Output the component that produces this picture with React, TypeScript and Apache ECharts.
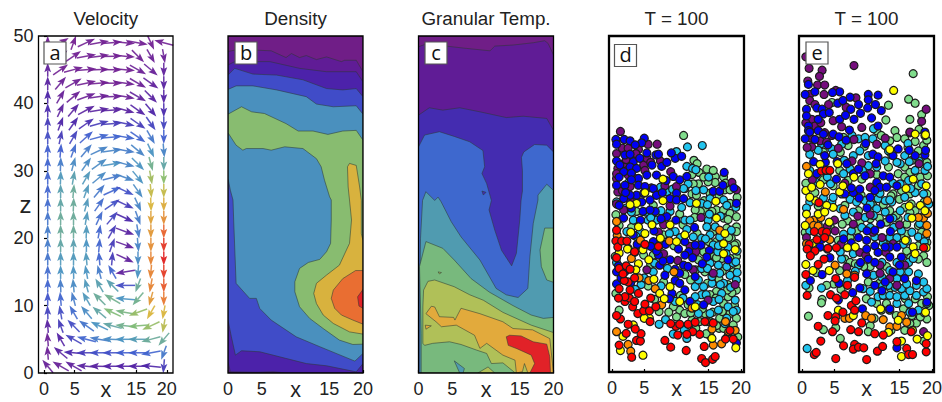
import React, { useEffect, useRef } from "react";
import * as echarts from "echarts";

const FONT = '"Liberation Sans", Arial, sans-serif';
const titles = ["Velocity", "Density", "Granular Temp.", "T = 100", "T = 100"];
const panelLetters = ["a", "b", "c", "d", "e"];
const xTicks = [0, 5, 15, 20];
const zTicks = [0, 10, 20, 30, 40, 50];

// ---------- quiver ----------
const quiverX = [0.6, 2.7, 4.8, 6.9, 9, 11.1, 13.2, 15.3, 17.4, 19.5];
const quiverZ = [49, 47, 45, 43, 41, 39, 37, 35, 33, 31, 29, 27, 25, 23, 21, 19, 17, 15, 13, 11, 9, 7, 5, 3, 1];
const quiverAngles = [
  [90, 30, 70, 25, 10, 5, -5, -10, -65, 165],
  [90, 40, 35, 10, 8, 2, -5, -45, -60, -80],
  [90, 35, 15, 5, 2, 0, -5, -30, -40, -90],
  [90, 50, 30, 12, 5, 0, -8, -30, -35, -90],
  [90, 60, 40, 20, 8, 2, -10, -30, -45, -90],
  [90, 65, 50, 28, 10, 3, -15, -35, -50, -90],
  [90, 70, 55, 35, 15, 5, -12, -35, -55, -90],
  [90, 78, 60, 42, 15, 5, -10, -35, -60, -90],
  [90, 85, 70, 50, 25, 8, -10, -40, -65, -85],
  [90, 88, 75, 55, 35, 10, -15, -45, -75, -90],
  [90, 88, 80, 60, 40, 15, -20, -50, -80, -90],
  [90, 90, 85, 70, 50, 25, -25, -55, -85, -90],
  [90, 90, 88, 75, 55, 35, -25, -65, -88, -90],
  [90, 90, 90, 80, 65, 50, -25, -70, -90, -90],
  [90, 90, 90, 88, 80, 60, -20, -80, -90, -90],
  [90, 90, 90, 90, 85, 70, -20, -85, -90, -90],
  [90, 90, 90, 95, 95, 85, -25, -90, -90, -90],
  [90, 90, 92, 100, 105, 120, 190, -95, -95, -90],
  [90, 92, 95, 105, 120, 135, 180, -110, -100, -90],
  [90, 95, 105, 120, 135, 150, 175, -130, -105, -90],
  [92, 100, 120, 130, 140, 155, 170, -160, -120, -100],
  [95, 110, 135, 145, 155, 165, 175, -175, -155, -100],
  [95, 120, 150, 165, 170, 178, 180, 180, -165, -130],
  [95, 140, 175, 180, 180, 180, 180, 180, -170, -110],
  [130, 150, 150, 175, 178, 180, 180, 180, 175, -95],
];
const quiverSpeeds = [
  [.03, .02, .02, .03, .03, .03, .03, .03, .03, .03],
  [.05, .03, .03, .03, .03, .03, .03, .04, .05, .05],
  [.08, .03, .03, .03, .03, .03, .03, .05, .06, .08],
  [.1, .05, .04, .03, .03, .03, .04, .05, .08, .1],
  [.14, .06, .05, .05, .05, .05, .05, .08, .1, .12],
  [.16, .09, .1, .1, .1, .1, .1, .12, .14, .16],
  [.2, .14, .15, .17, .2, .2, .2, .2, .22, .22],
  [.24, .2, .22, .28, .3, .3, .3, .3, .35, .28],
  [.28, .28, .32, .36, .38, .38, .36, .38, .42, .38],
  [.3, .36, .4, .4, .4, .42, .38, .42, .52, .48],
  [.3, .44, .46, .44, .4, .35, .38, .42, .62, .58],
  [.3, .46, .5, .44, .35, .3, .25, .4, .68, .68],
  [.32, .48, .5, .44, .32, .25, .2, .38, .72, .74],
  [.34, .5, .5, .44, .32, .22, .15, .36, .76, .8],
  [.36, .5, .5, .44, .3, .2, .1, .36, .78, .88],
  [.36, .48, .46, .42, .3, .2, .08, .38, .8, .96],
  [.34, .44, .44, .44, .3, .2, .08, .4, .82, 1],
  [.32, .42, .42, .42, .36, .3, .08, .42, .82, .95],
  [.3, .36, .4, .44, .46, .46, .24, .5, .82, .9],
  [.26, .3, .36, .44, .5, .52, .42, .52, .78, .84],
  [.22, .24, .32, .4, .48, .56, .54, .6, .72, .72],
  [.1, .2, .24, .34, .42, .48, .52, .56, .6, .66],
  [.05, .12, .22, .3, .36, .4, .42, .45, .5, .5],
  [.05, .1, .15, .2, .25, .25, .28, .28, .3, .35],
  [.06, .06, .08, .1, .1, .12, .12, .12, .14, .2],
];
const speedStops = ["#7b1f8c", "#4b23a8", "#3f5fd0", "#4a95c0", "#85bd70", "#d8b83c", "#ea7030", "#e02020"];

// ---------- density contours ----------
const densityBase = [[0, 0], [20, 0], [20, 50], [0, 50]];
const densityPurple2 = [[0, 47.7], [1, 47.9], [4.2, 47.9], [6.4, 47.8], [8.6, 46.8], [9.4, 47.4], [10.6, 46.8], [11.6, 47.1], [13.1, 46.5], [14.6, 46.9], [16.8, 46.2], [17.3, 46.4], [19, 46.4], [20, 44.7], [20, 0], [0.3, 0], [0, 0.5]];
const densityIndigo = [[0, 45.7], [1, 46.2], [6.2, 46.2], [10.6, 45.2], [14.6, 44.7], [19, 44.7], [20, 43.2], [20, 0], [8.6, 0], [6.7, 0.18], [4.2, 0.1], [0.35, 0.18], [0, 1.66]];
const densityBlue = [[0, 44.2], [1, 45.2], [3.7, 44.35], [7.2, 44.2], [11.1, 43.5], [14.6, 42.2], [17, 42], [19, 42.2], [20, 41], [20, 1.4], [19, 0.17], [14.6, 1.07], [11.6, 1.4], [7.65, 2.4], [4.7, 3.15], [2, 3.3], [1.1, 2.65], [0.5, 5.37], [0, 7.85]];
const densityTeal = [[0, 42.07], [1.2, 42.6], [3.7, 42.6], [7.2, 42], [11.6, 41], [13.1, 39.9], [15.6, 39.5], [19, 39.65], [20, 38.4], [20, 2.9], [18.8, 1.76], [13.6, 3.9], [10.1, 5.37], [6.4, 7.85], [4.7, 9.58], [4.2, 11.07], [3.2, 11.07], [1.2, 13.3], [0.84, 22.7], [0.74, 25.67], [0.35, 27.1], [0, 28.85]];
const densityGreen = [[0, 38.4], [2, 39.5], [3.5, 38.75], [5.4, 38.5], [8.6, 37], [10.4, 35.9], [12.6, 35.9], [14.8, 35.4], [17, 35.9], [19, 36], [20, 34.55], [20, 4.28], [18.5, 4.23], [16.5, 4.88], [14.1, 6.6], [12.1, 8.1], [10.6, 9.83], [9.9, 12.06], [9.9, 13.54], [10.6, 15.52], [11.9, 16.4], [13.6, 16.86], [14.6, 18], [15.2, 19.23], [15.3, 22.7], [15.3, 25.67], [15.06, 26.13], [14.3, 28.6], [13.8, 30.6], [13.1, 31.8], [11.1, 33.3], [8.4, 33.56], [6.4, 33.06], [5.2, 33.3], [2.7, 33.3], [2.2, 33.06], [1.2, 33.8], [0, 35.64]];
const densityYellow = [[20, 19.63], [20, 5.77], [18, 6.1], [15.6, 7.35], [14.1, 8.6], [13.1, 10.3], [12.7, 11.8], [13.1, 13.3], [14.6, 14.53], [16.5, 16], [18, 19.23], [18.3, 22.7], [18, 25.67], [17.8, 27.6], [17.7, 30.6], [18, 31.1], [19, 30.8], [19.5, 27.6], [19.75, 25.6], [19.75, 20.7]];
const densityOrange = [[20, 15.2], [18.9, 15.2], [17, 14], [15.6, 12.3], [15.3, 11.07], [15.8, 9.6], [16.8, 8.6], [18.5, 7.85], [20, 7.25]];
const densityRed = [[20, 12.4], [19.2, 11.3], [19.4, 9.93], [20, 9.6]];

// ---------- granular temperature contours ----------
const tempBase = [[0, 0], [20, 0], [20, 50], [0, 50]];
const tempPurple2 = [[0, 48.4], [1.1, 48.8], [4.1, 48.5], [7.1, 48.16], [10.6, 47.8], [11.3, 48.5], [14, 48.66], [17, 49], [18.7, 49.3], [19.2, 48.9], [20, 47.2], [20, 0], [0, 0]];
const tempIndigo = [[0, 38.26], [1.6, 39.35], [3.6, 39], [6.1, 39.35], [9.1, 38.75], [13, 37.9], [15.5, 38.1], [19, 37.77], [20, 36], [20, 0], [0, 0]];
const tempBlue = [[0, 33.55], [0.9, 35.3], [3.1, 35.8], [5.3, 35.1], [7.6, 34.3], [9.55, 33], [9.8, 30.6], [9.4, 29.6], [10.1, 28.1], [10.8, 25.6], [10.45, 24.2], [11.3, 21.2], [12.3, 18.2], [13.8, 15.9], [14.5, 17.75], [15, 22.7], [15.2, 25.67], [15.4, 27], [15.4, 30], [15.25, 32], [15.6, 32.8], [17.2, 33.9], [19, 33.8], [20, 32.8], [20, 0], [0, 0]];
const tempIndigoSpot = [[9.4, 27], [10, 26.8], [9.6, 26.4]];
const tempTeal = [[20, 27.1], [19, 28], [17.7, 26.4], [17.7, 25.67], [17, 22.2], [16.5, 17.25], [16.2, 12.55], [14.75, 11.2], [13, 11.6], [11.5, 12.55], [9.1, 16.76], [6.3, 20.2], [4.85, 22.45], [3.35, 25.4], [2.9, 26.1], [2.4, 25.6], [1.1, 26.9], [0.6, 25.6], [0.3, 20], [0.2, 12], [0.2, 0], [20, 0]];
const tempGreenRight = [[20, 21.5], [18.7, 21.5], [18, 18.25], [18.2, 15.77], [19, 13.8], [20, 13.45]];
const tempGreen = [[0.15, 15.8], [1.1, 19.5], [3.6, 18.5], [5.3, 16.76], [7.8, 14], [10.5, 12], [14, 10], [16.7, 8.6], [18.5, 8.1], [20, 8.25], [20, 0], [0.4, 0], [0.4, 5.87]];
const tempTealPatch = [[5.3, 1.8], [6.8, 0.67], [6.6, 0], [6.1, 0]];
const tempGreenSpot = [[2.9, 15], [3.4, 14.9], [3.1, 14.7]];
const tempYellowGreen = [[0.75, 12.3], [1.4, 13.6], [2.4, 13.8], [5.3, 12.8], [7.6, 11.6], [9.6, 10.8], [12.5, 9], [16.7, 7.1], [20, 6], [20, 0], [14.3, 0.03], [12.5, 1.5], [10.8, 1.4], [10.1, 2.9], [8.6, 3.4], [6.3, 4.23], [4.6, 4.63], [2.1, 4.4], [0.9, 4.1], [0.65, 4.4], [0.65, 9.8]];
const tempYellowBump = [[8.8, 0], [10.3, 0.9], [11.3, 0]];
const tempOrange = [[1.1, 8.8], [1.9, 9.9], [2.4, 9.8], [3.1, 8.35], [5.2, 8.25], [5.4, 7.85], [6.3, 9.6], [9.1, 8.8], [12.5, 7.6], [14, 6.6], [16.9, 6.4], [19.45, 5.1], [19.85, 1.4], [20, 0], [16.2, 0], [15.7, 1.4], [15.4, 0.2], [14.5, 0], [14.3, 1.9], [12.5, 2.65], [10.1, 4.4], [9.1, 3.65], [8.3, 5.6], [5.6, 7.1], [3.4, 6.86], [2.6, 7.6]];
const tempOrangeSpot = [[1, 7.1], [1.9, 7], [1.1, 6.5]];
const tempRed = [[13, 5.37], [13.5, 5.6], [15.2, 5.5], [17, 4.63], [19, 4.28], [19.45, 2.4], [19.55, 0.03], [16.5, 0], [17.2, 1.4], [16.7, 2.65], [14.6, 3.6], [13.3, 4.1]];

// ---------- particles, panel d ----------
const dPurple = [[1.3, 35.8], [7, 33.9], [0.7, 32.5], [1.6, 33.3], [2.5, 33.3], [4.1, 33.1], [5.6, 33.9], [3.7, 32.5], [4.9, 30.8], [1.8, 31], [0.9, 30.3], [0.7, 28.8], [2.5, 29.3], [5.1, 30], [7.5, 31.4], [8.2, 27.7], [9.1, 29.8], [0.9, 26.8], [2.8, 27.6], [1.8, 24.1], [18.6, 28.2], [19.3, 27.1], [10, 27.6], [5.4, 31.8], [13.8, 23], [8, 17.6], [5.4, 15.2], [10.2, 16.6], [12.6, 15.2], [14.9, 10.7], [19.1, 13], [15.7, 14.7], [8, 21.9], [13, 17.9],
  [2.2, 31.6], [6, 31.2], [3.3, 29], [0.7, 29.5], [6.1, 27.4], [1.6, 27], [0.7, 25], [2.8, 25.6], [9, 24.7], [7.2, 20.8], [12.1, 18.7]];
const dBlue = [[0.6, 34.6], [1.9, 34.6], [2.8, 34.4], [5, 34.8], [4.6, 34.1], [3.6, 33.8], [0.7, 33.9], [2, 32.3], [0.7, 31.4], [3.3, 31.3], [4.3, 31.8], [6.8, 32.3], [7.2, 32.4], [9.8, 31.8], [10.8, 32.1], [17.4, 29.7], [7.7, 30.6], [2.8, 30.5], [3.8, 30.3], [6.2, 30.8], [1.8, 29.8], [3, 29.6], [4.1, 28.8], [5.4, 29.3], [6.9, 29.3], [9.5, 29.1], [10.5, 28.6], [11.6, 29.1], [0.7, 27.8], [2, 27.8], [4.1, 27.8], [5.1, 27.6], [6.4, 27.3], [10, 26.6], [6.9, 26.3], [3.8, 26.3], [2.8, 26.3], [1.8, 25.8], [4.6, 25.3], [5.9, 25.6], [9, 25.8], [10, 25.6], [11.1, 25.8], [15.7, 26.9], [16.7, 26.9], [18.9, 27.4], [19.3, 25.1], [6.7, 23.9], [4.8, 23.9], [5.9, 24.1], [8.5, 23.1], [1.8, 22.9], [4.4, 22.6], [12.8, 21.5], [6.5, 21], [3.3, 20.4], [6.4, 19.4], [11.3, 19.4], [10.3, 18.3], [13.8, 18.9], [15.1, 18.1], [12.9, 18.9], [11.9, 17.9], [11.3, 17.4], [3.5, 17.8], [1, 15.8], [0.7, 14.9], [0.7, 13.1], [2.9, 13.3], [7.4, 15.9], [8.2, 14.4], [9.8, 13.6], [9, 16.7], [11.1, 15.9], [11.8, 15.7], [12.1, 10.5], [14.2, 10], [19.3, 4.3], [9.3, 11.7], [10.5, 13.2], [11.3, 12.2], [14.7, 17.1], [18, 16.7], [7.2, 17.4],
  [1.2, 30.8], [2.8, 32.4], [5.4, 32.6], [8.5, 31.2], [9.2, 32.6], [8.4, 28.5], [7.8, 26.7], [3, 28.6], [1.1, 29], [2.1, 26.7], [4.9, 26.6], [1.1, 24.8], [3, 24.4], [7.6, 22.8], [9.9, 22.6], [3.9, 19], [8.3, 19], [7.9, 16.5], [9.8, 15.3], [10.5, 14.7], [12.9, 14.2], [2, 14.9], [1.4, 14], [17.2, 27.8], [6.9, 18], [6, 18.7], [12.5, 17], [14, 16.1], [8.9, 10.9]];
const dCyan = [[11.7, 33.5], [14, 33.7], [10, 32.8], [11.6, 30.6], [12.5, 30.3], [2.6, 28.2], [8.5, 26.8], [0.7, 25.3], [11.8, 28], [11.1, 27.3], [14.2, 27.1], [12.1, 25.2], [15.2, 25.8], [13.9, 25.1], [17.3, 25.6], [9, 23.9], [11.3, 22.6], [12.1, 22.6], [14.9, 22.6], [3.3, 22.6], [2.3, 20.9], [6.9, 22.6], [4.4, 20.9], [14.7, 21.6], [16, 21.6], [11.6, 21.2], [9.8, 20.9], [8.9, 20.6], [5.6, 22.6], [15.2, 20.4], [16.7, 20.1], [18.5, 21.1], [12.6, 20.1], [13.9, 19.9], [2.5, 18.4], [4.4, 18.8], [15.7, 18.9], [18, 18.6], [16.4, 17.9], [6.4, 14.9], [4.5, 13], [12.9, 12.7], [14.2, 12.7], [15.5, 13.2], [17.3, 13.2], [13.9, 11.5], [15.7, 10.5], [17, 11.7], [19.1, 10.7], [18, 9.7], [16.5, 9.2], [15.2, 8.7], [19.3, 9.2], [17.8, 8], [12.9, 11.2], [13.4, 8.7], [7.3, 7.1], [8.3, 7.8], [9.5, 5.65], [11.6, 5], [15.2, 16.2], [16.5, 15.9], [17.8, 15.7], [18.8, 16.2], [13.9, 15.4], [15.5, 14.2], [18.3, 14.4], [19.3, 13.7], [16.7, 14.7], [13.4, 13.7],
  [13, 30.1], [15, 29], [13, 27], [14.8, 24.9], [16.8, 23.2], [15.1, 23.5], [19.2, 24.5], [17.8, 24.8], [10.8, 24.5], [7.6, 24], [6, 23], [3, 23.8], [2.2, 24.4], [1.4, 26.8], [7.5, 27.5], [9.4, 27.2], [12.3, 18.2], [14.5, 19.8], [16.5, 18.8], [19.2, 16.4], [17.7, 17.6], [14.8, 15.4], [16.8, 13], [18.4, 12.6], [14.6, 11.5], [16.6, 10.8], [13.3, 10], [11, 11], [9.8, 10.5], [7.6, 12.8], [8.6, 15.4], [6.6, 16.2], [5, 14], [3.6, 12.3], [18.8, 9], [17.5, 7.2], [11.2, 6.3], [5.2, 23.8], [3.7, 20.2], [10.6, 20], [0.7, 16.3], [19.4, 18], [19.4, 14.8]];
const dGreen = [[11.1, 35.2], [12.7, 31.5], [13.5, 29.7], [14.7, 30.2], [16, 29.1], [17.3, 29], [16, 28.2], [17.6, 28.1], [13.4, 28], [12.6, 28], [12.4, 26.5], [14.9, 28.3], [11.3, 27.3], [13.1, 26.3], [17.5, 27.1], [18.3, 27.1], [15.2, 26.6], [19.4, 26], [18.3, 25.1], [16.2, 24.1], [15.5, 23.9], [14.4, 24.1], [13.7, 23.9], [12.9, 24.1], [17.3, 24.1], [18.3, 23.6], [19.3, 23.1], [17.3, 22.9], [18, 22.7], [0.6, 23.4], [3.8, 23.9], [6.4, 24.8], [19.3, 21.6], [19.3, 20.9], [18.5, 19.9], [16.2, 19.4], [19.3, 19.1], [17.8, 21.4], [15.7, 20.9], [8, 20.4], [0.6, 11.7], [1.1, 9.2], [15.2, 5.4], [16.6, 6.5], [19.3, 15.7], [19.3, 17.2], [18.3, 16.9], [17, 16.9], [15.7, 17.2], [13.4, 16.7], [14.4, 14.9], [18, 13], [19.3, 12.2], [16.2, 12], [15.2, 11.5], [18, 11.2], [17.3, 10.2], [18.3, 8.7], [16.7, 8], [19.3, 8], [15.2, 7.5], [12.4, 7.7], [14.4, 8.7], [13.6, 7.5], [10.5, 9.2], [11.3, 8.7], [9.5, 9.7], [12.9, 10.2], [18.8, 7], [17.3, 6.5], [6.4, 17.4], [4.9, 17.4], [8, 13.4], [5.6, 12.8],
  [13.2, 20.6], [14.2, 17.9], [15, 19.4], [16.9, 18.6], [18.1, 20], [19, 18.9], [17.1, 15], [14.8, 13.2], [16.1, 11], [18.6, 11.8], [17.1, 9], [19, 9.9], [14, 9.4], [11.8, 10], [10.6, 11.4], [12.2, 13.7], [11.3, 14.5], [13, 15.2], [15, 16.5], [16.2, 17], [18.8, 14.9], [17.9, 12.2], [16.6, 13.8], [15.6, 8.9], [16.2, 6.9], [18, 5.4], [19.5, 5.2], [13, 6.5], [14.6, 5.7], [12.2, 8.8], [10, 8.2], [8.8, 8.9], [7.3, 9], [6.6, 10.8], [6, 16], [7.5, 18.9], [9.6, 18.8], [11, 21.9], [12.8, 23], [14.3, 25.5], [16.6, 26.2], [14.2, 29], [15.7, 30], [12.4, 29.4], [13.2, 31], [10.5, 23.5], [3, 21.5], [1.1, 21.8], [0.5, 17.2]];
const dOrange = [[0.7, 6], [2.5, 4.1], [2.9, 3.1], [4.2, 14], [15.7, 4], [17, 4.2], [18.1, 6], [19.1, 6.2], [15.5, 6.4], [6.7, 12.4], [7.7, 10], [12.4, 9.5], [14.7, 7.5], [0.7, 22.4], [4.4, 19.6], [8.9, 19.5], [16.7, 21.1], [0.8, 20.3], [3, 16.9], [5.7, 13.6], [9.6, 14.9], [17.6, 7.5]];
const dYellow = [[4.8, 2.5], [1.3, 3.2], [1.7, 5.3], [3.3, 7], [5.8, 8], [5, 8], [4.1, 16.1], [3.7, 15.2], [6.5, 13.8], [7.4, 11.7], [8.1, 10.9], [10.5, 10.5], [12.9, 9.7], [17.3, 17.6], [7.9, 28.7], [5.1, 26.7], [3.8, 25.1], [7.9, 25.5], [13.1, 25.1], [16.1, 25.4], [16.2, 22.9], [6.2, 21.9], [4.1, 21.6], [5.1, 20.6], [7.5, 19.9], [10, 19.4], [11.3, 20.4], [17.5, 20.6], [17.3, 19.1], [19.1, 18.2], [2.4, 18.3], [1.1, 17.7], [2.8, 24.9], [9, 21.9], [4.8, 18.2], [2.9, 20.8], [5.7, 16.7], [9, 12.7], [15.5, 5], [19.2, 3.6]];
const dRed = [[3.05, 2.2], [13.9, 2], [14.5, 1.4], [15.6, 1.9], [16, 2.3], [11.5, 3.2], [9.1, 3.7], [8.2, 4.7], [1.1, 4], [3.8, 4.7], [4.4, 4.6], [4.5, 5.7], [3.6, 6.4], [2.2, 5.75], [2.5, 7.1], [14.3, 3.8], [13.6, 5.6], [12.5, 6], [11.6, 5.6], [10.2, 5.5], [9.9, 6.8], [9.1, 7.2], [11.8, 7.1], [10.5, 7.1], [5.9, 7.5], [4, 8.7], [3.2, 9.7], [2, 10.5], [1.3, 7.9], [0.7, 8.4], [4.9, 9.1], [5.8, 9.1], [6.8, 9.7], [5.1, 10.1], [2.7, 11], [2, 11.2], [2.8, 12.2], [1.1, 12.4], [2.5, 13.4], [1.9, 13.6], [1.1, 15.4], [2.2, 15.8], [2.8, 15.3], [4.1, 11.7], [18.8, 4.9], [17.6, 4.9], [15.7, 7.3], [18.3, 6.2], [14.4, 7.5], [0.7, 21.1], [0.6, 19.5], [0.9, 18.6], [1.5, 19.5], [2.3, 19.5], [5.1, 19], [7.2, 18.7], [3.5, 17.9], [1.7, 14.6], [1, 11], [0.7, 17], [3.5, 14], [6, 11], [3.5, 10.5], [12.9, 7.4]];

// ---------- particles, panel e ----------
const ePurple = [[8, 45.6], [0.6, 46.9], [1.1, 45.2], [3.1, 44.9], [2.7, 44], [0.9, 43.3], [2.4, 42.7], [3.5, 42.7], [5.2, 41.9], [1.2, 41.3], [3.4, 41.3], [8.3, 40.8], [1.2, 40.4], [2, 39.8], [19.1, 39.1], [18.4, 37.3], [1.5, 37.6], [4.8, 37.4], [0.6, 37.1], [9.2, 36.4], [2, 36.6], [16.6, 35.6], [6.1, 36.5], [3.5, 35.6], [4.6, 35.2], [1.5, 33.5], [2.8, 34.4], [11.5, 33.9], [16.6, 35.7], [9.2, 31.1], [10.5, 29.5], [6.6, 28.1], [10.5, 27.5], [0.7, 20], [5.1, 21], [7.9, 22], [10.5, 23.4], [10.9, 20.8], [12.3, 20], [8.9, 17.8], [14, 19.1], [12.9, 17.8], [12, 14.7], [15.8, 15.9], [14.6, 12.9], [18.7, 6], [6.9, 15.6], [13.5, 13.9],
  [4.1, 39.8], [2.9, 37.1], [6.8, 39.4], [1.4, 34.8], [3.8, 34.2], [8, 34.6], [5.6, 33.3], [12.8, 34.8], [18, 31], [7.7, 31.4], [0.8, 33.4], [1.6, 28.6], [5, 22.6], [8.6, 23.2], [6, 19], [3.9, 21.7], [15, 21.9], [12, 15.9], [9.8, 17.4]];
const eBlue = [[1, 42.8], [5.8, 41.7], [4.7, 41.6], [7.4, 40.9], [10.2, 41.3], [11.7, 41.2], [10.2, 40.5], [0.5, 41.3], [2, 41.7], [5.5, 40], [6.3, 40.4], [8.7, 39.8], [11.3, 39.8], [0.7, 39.1], [2.3, 39.3], [3.1, 39.1], [0.7, 38.1], [3.3, 38.4], [2.5, 37.6], [5.8, 37.6], [8, 37.6], [10.1, 39.3], [1, 36.6], [1, 35.9], [2.5, 35.9], [7.3, 36], [18.9, 35.7], [0.5, 34.7], [1.2, 35.7], [3.3, 35.4], [4.8, 35.4], [3.6, 31.2], [3.5, 32.2], [5.3, 28.7], [2.3, 29.5], [6.9, 31], [7.9, 29.5], [8.7, 30.2], [9.7, 29.2], [11.5, 28.2], [12.5, 29.2], [13.5, 29], [14.8, 33.2], [17.4, 32.2], [18.9, 32.3], [10.9, 32.4], [11.7, 32], [6.6, 26.5], [7.9, 26.7], [8.9, 27.2], [12, 27.5], [13, 27.5], [10.5, 26], [14.6, 27.7], [13.5, 22.8], [11.2, 21.1], [8.7, 20], [9.95, 19.6], [6.4, 19.8], [11.2, 18.8], [13.5, 18.6], [12.8, 18.6], [14.6, 18.6], [15.3, 17.1], [9.95, 18.3], [2.8, 18.6], [11.7, 17.8], [10.2, 16.8], [11.2, 16.3], [4.3, 17], [13.5, 17.1], [14.6, 3.6], [5.7, 13.2], [9.3, 9.4], [5.6, 10.7], [1.3, 13.6], [3.1, 14.5], [8.9, 12.5], [9.95, 14.6], [12.8, 13.4], [13.5, 9.4], [17, 8.9], [19.2, 10.4], [17.6, 13.6], [15.8, 13.9], [11.2, 12.9], [12.3, 12.1],
  [7.5, 39.1], [4.2, 38.6], [6.7, 38.2], [9, 38.5], [10.7, 37.8], [12.2, 38.9], [2, 34.6], [5.7, 35], [6.8, 34.5], [11.7, 36.6], [4, 33.8], [1.8, 31.3], [7.6, 27.4], [5.4, 31.3], [9.8, 34], [11.4, 31], [8.8, 25.9], [11.2, 27], [14, 32.2], [16.5, 33], [19, 33], [10, 24.4], [7.6, 19.2], [3, 19.7], [3.9, 18.3], [13.6, 20.9], [10, 21], [12.1, 22], [9, 16.3], [15, 15.9], [14, 14.9], [7.8, 11.8]];
const eCyan = [[1.2, 32.4], [4.6, 33.2], [6.1, 33.9], [8.7, 34.7], [9.7, 34.9], [10.9, 34.7], [4.8, 32.4], [7.9, 32.2], [8.9, 32.9], [10.2, 32.2], [12.8, 33.7], [15.8, 32.2], [15.1, 31], [17.4, 30], [18.9, 30], [12.8, 31.4], [14.6, 31.2], [6.4, 29.5], [11.5, 30.5], [10.2, 30.7], [7.4, 30.2], [1.2, 30], [1.2, 25.3], [0.7, 24.4], [4.6, 25.3], [4.8, 26], [7.4, 25.7], [8.4, 25.3], [9.7, 25.5], [11.7, 25.8], [12.8, 25.5], [13.8, 25.3], [15.8, 26], [17.4, 26.7], [18.7, 26.5], [15.1, 28], [16.4, 28.5], [7.9, 23.8], [9.7, 23], [11.5, 24.3], [12.8, 23.8], [15.1, 24], [9.2, 21.5], [7.6, 21], [10.5, 21.5], [14.1, 21.5], [15.3, 21], [16.9, 20.8], [17.9, 20.1], [13.5, 20], [14.6, 20], [6.1, 16.8], [7.9, 17.6], [12.3, 16.3], [14.6, 16.3], [16.4, 16.3], [1.2, 21], [6.6, 23.3], [15.6, 19], [0.8, 3.5], [3, 12.5], [0.6, 12.9], [8.7, 15.9], [11.7, 11.2], [10.7, 10.4], [14.6, 10.2], [16.4, 10.2], [17.9, 9.2], [16.6, 8.9], [19.2, 10.2], [12.5, 11.4], [13.5, 11.4], [14.6, 11.2], [15.8, 11.4], [16.6, 12.1], [17.6, 11.4], [18.7, 11.9], [19.2, 12.4], [15.3, 12.4], [14.3, 12.6], [13.3, 12.9], [16.1, 13.1], [17.6, 12.9], [18.7, 13.4], [12.3, 14.1], [13.5, 15.1], [15.1, 14.9], [16.4, 14.9], [17.9, 14.6], [14.6, 13.9], [11, 14.4], [9.4, 12.4],
  [11, 36.2], [7.7, 35.2], [3, 34], [2.5, 33], [6.5, 31.5], [9.3, 30], [13.3, 32.9], [16.5, 31.3], [18, 31.4], [16.3, 34], [2.1, 28.3], [3.9, 29], [4.4, 28], [12, 26.6], [16.7, 27.3], [18.4, 28], [14, 28.1], [19.5, 25], [19.3, 30.6], [6.1, 26.5], [3.3, 25.9], [5.9, 24.3], [10.5, 25], [11, 23.3], [13.5, 25.6], [16.3, 23], [14, 22.9], [18.1, 22.1], [19, 20.1], [11.2, 20.1], [6.4, 20.5], [2.5, 22], [16.2, 19.5], [18.8, 19.4], [12.5, 19.2], [17.1, 16.9], [8.2, 15], [7, 13.6], [5.9, 17.9], [10.5, 12], [12.4, 12.8]];
const eGreen = [[17.1, 44.4], [16.4, 40.6], [17.4, 40], [18.4, 38.3], [4.6, 40.1], [13.3, 39.7], [12.9, 37.5], [14.3, 35.9], [16.6, 37.6], [18, 36.1], [6.4, 34.9], [3.3, 32.7], [5.9, 32.7], [7.1, 33.7], [14.6, 34.9], [15.8, 34.7], [13.5, 34.4], [18.7, 33.7], [17.9, 32.9], [13.3, 30.5], [15.8, 30.5], [14.8, 29.5], [16.6, 29.7], [18.2, 29], [19.3, 29.2], [15.8, 29], [0.6, 28.1], [2, 26.7], [4.8, 27.7], [7.1, 28.5], [9.2, 28.7], [14, 26.5], [15.3, 27], [16.6, 26.5], [17.9, 27.7], [19.2, 26.5], [6.6, 24.8], [8.7, 24], [10.9, 24.8], [13.5, 24], [15.8, 24.5], [17.4, 24], [7, 22.5], [8.9, 22.3], [13, 22.3], [14.8, 22.8], [16.1, 22], [17.9, 21.8], [19, 24], [1, 21.3], [8.4, 21], [16.1, 20.5], [18.4, 20.8], [17.9, 18.8], [18.7, 17.3], [5.6, 19.6], [7.4, 20], [6.6, 16.8], [17.9, 16.8], [16.1, 18], [19.2, 16.3], [7.4, 16.3], [0.5, 20.8], [1, 8.3], [3.3, 6.3], [5.2, 6.6], [5.9, 5], [10.5, 6.9], [10.2, 6], [3.1, 10.8], [3, 10.3], [1.1, 12.5], [9.9, 10.9], [11.5, 10.2], [13, 10.2], [13.7, 6.2], [18.7, 4.6], [15.8, 6.2], [17.6, 7.3], [19.2, 7.9], [18.2, 8.2], [16.9, 8.4], [4.9, 13.1], [5.8, 15.1], [8.2, 16.1], [10.5, 15.7], [13.5, 9.2], [15.6, 9.4], [18.4, 10.2], [19.3, 11.2], [17.4, 10.9],
  [11.5, 35.9], [9.6, 33.6], [12.2, 35.2], [16.9, 31.5], [13.8, 32.3], [19.2, 31.2], [19.2, 34.5], [17.4, 34.3], [16.3, 33.4], [11.5, 29.4], [13.7, 26.2], [12.5, 24.9], [11.9, 22.9], [10.5, 22.8], [6.2, 22], [4.4, 21.5], [2.5, 24.7], [3.3, 28.6], [5.8, 30], [9.1, 26.3], [16.8, 25], [18.8, 25.3], [15, 25.7], [14.5, 23.3], [16.6, 23.7], [18.6, 23.1], [15.4, 19.9], [13.4, 19], [19.2, 19.3], [18.2, 19.9], [16.7, 17], [13, 15.7], [11.9, 13.2], [10.2, 13.4], [9.5, 15.7], [7.2, 14.3], [6, 12.3], [3.8, 12.9], [2.2, 14.8], [15.9, 10.9], [13.6, 12.5], [12.2, 9.2], [11.1, 8], [14.5, 8.4], [16.6, 7.2], [18.8, 8.8], [19.5, 9.9]];
const eOrange = [[0.7, 30.6], [3.6, 26.8], [6.4, 24.2], [1.8, 22.6], [1.2, 22.5], [1.8, 21.8], [4.3, 19.7], [18.7, 22.9], [19.2, 21.8], [17.9, 23], [19.2, 20.6], [19.3, 23.6], [6.6, 8], [7.3, 8], [9.8, 8.4], [10.7, 8], [12.5, 7.8], [13.5, 6.7], [14.6, 6.8], [16.1, 7.4], [15.3, 8.4], [5.1, 15.9], [6.9, 14.6], [8.1, 14.4], [0.7, 19.1], [2.9, 23], [2.5, 21.7], [19.3, 25.5]];
const eYellow = [[14.1, 41.9], [17.4, 35.4], [18.9, 35.2], [19, 35.3], [13.5, 33.1], [5.5, 31], [1, 29.5], [2.8, 30.9], [0.6, 27], [2.8, 27.9], [1.5, 27.5], [4.8, 24.5], [3.8, 24.8], [2.5, 23.5], [3.5, 23.8], [0.7, 23.5], [5.8, 26.8], [16.5, 24.7], [19.1, 27.7], [17.1, 28.7], [18.2, 24.8], [15.9, 19.6], [17.1, 18.6], [19.1, 18.5], [7, 18.5], [1.6, 19.1], [16.9, 22.9], [17.4, 17.6], [0.6, 16], [8.2, 18.6], [1.7, 15.1], [4.2, 15.1], [15.3, 2.3], [19.3, 5.4], [17.7, 4.9], [17, 6.2], [13.3, 5.9], [12.1, 9.4], [5.6, 9.2], [14.8, 7.7], [19, 8.9], [15.3, 4.6], [7.9, 8.4], [6.3, 27.7], [8, 29], [2.1, 25.5], [1.2, 26], [4.2, 22.3], [18.9, 24], [16, 27.3], [0.5, 21.8]];
const eRed = [[5.2, 2], [9.95, 1.85], [1.9, 2.6], [2.2, 2.9], [2.9, 4.6], [6.4, 3.9], [8.1, 4.1], [7.9, 3.4], [8.7, 3.7], [9.5, 3.6], [11.6, 3.1], [12.4, 3.8], [14.6, 4.5], [16.1, 3.5], [16.4, 2.6], [17, 2.6], [19.1, 3], [19.1, 4.2], [2.5, 6.8], [4.7, 6], [7.5, 6.3], [8.7, 6], [11.2, 5.7], [12.5, 5.5], [9.2, 7.3], [4, 8.4], [5.2, 8.2], [5.1, 7.6], [6.3, 8.9], [7.6, 9.9], [8.3, 10.6], [8.1, 9.2], [0.8, 11.4], [4.4, 11.5], [5.3, 11], [6.6, 11.5], [7, 12.9], [5.2, 13.9], [8.1, 14.1], [16.8, 6], [2.6, 25.2], [3, 29.9], [3.7, 30], [4.3, 30], [3.1, 20.9], [3.8, 20.8], [3.5, 20], [1.1, 19], [5.3, 18.5], [2, 18], [0.8, 18.3], [3.4, 16.8], [18.7, 18.5], [1.9, 20.9], [2.3, 19.7], [4, 18.4], [1.3, 17.3], [2.5, 16], [0.6, 14.5]];

type Pts = number[][];
const densityBands: [Pts, string][] = [
  [densityBase, "#701e87"], [densityPurple2, "#601c96"], [densityIndigo, "#4c22aa"], [densityBlue, "#404cc8"],
  [densityTeal, "#4a90be"], [densityGreen, "#88bc70"], [densityYellow, "#d8b23e"], [densityOrange, "#e96e32"], [densityRed, "#e12228"],
];
const tempBands: [Pts, string][] = [
  [tempBase, "#701e87"], [tempPurple2, "#601c96"], [tempIndigo, "#442cb0"], [tempBlue, "#3e68ce"], [tempIndigoSpot, "#442cb0"],
  [tempTeal, "#509bb0"], [tempGreenRight, "#78b97d"], [tempGreen, "#78b97d"], [tempTealPatch, "#509bb0"], [tempGreenSpot, "#b0c058"],
  [tempYellowGreen, "#b0c058"], [tempYellowBump, "#b0c058"], [tempOrange, "#e2aa3c"], [tempOrangeSpot, "#e2aa3c"], [tempRed, "#e12228"],
];

const COLORS = { purple: "#750d7d", blue: "#0000f5", cyan: "#22c4ee", green: "#80dc8c", orange: "#ff8c00", yellow: "#ffff00", red: "#ff0000" };

const grids = [
  { left: 38.5, top: 36, width: 134.5, height: 337, xMin: -0.9, xMax: 21 },
  { left: 228, top: 36, width: 135, height: 337, xMin: 0, xMax: 20 },
  { left: 418.5, top: 36, width: 135, height: 337, xMin: 0, xMax: 20 },
  { left: 609, top: 36, width: 135, height: 336, xMin: -0.47, xMax: 20.47 },
  { left: 799, top: 36, width: 135, height: 336, xMin: -0.45, xMax: 20.3 },
];

function speedColor(s: number) {
  const t = Math.min(0.9999, s) * (speedStops.length - 1);
  const i = Math.floor(t);
  const f = t - i;
  const p = (c: string) => [1, 3, 5].map((k) => parseInt(c.slice(k, k + 2), 16));
  const a = p(speedStops[i]);
  const b = p(speedStops[i + 1]);
  return `rgb(${a.map((v, j) => Math.round(v + (b[j] - v) * f)).join(",")})`;
}

function contourSeries(bands: [Pts, string][], axis: number) {
  return {
    type: "custom",
    xAxisIndex: axis,
    yAxisIndex: axis,
    clip: true,
    silent: true,
    data: bands.map((_, i) => [i]),
    encode: { x: [], y: [] },
    renderItem: (params: any, api: any) => {
      const [pts, color] = bands[params.dataIndex];
      return {
        type: "polygon",
        shape: { points: pts.map((p) => api.coord(p)) },
        style: { fill: color, stroke: "rgba(45,55,50,0.6)", lineWidth: 0.9 },
      };
    },
  };
}

function quiverSeries() {
  const data: number[][] = [];
  quiverZ.forEach((z, r) => quiverX.forEach((x, c) => data.push([x, z, quiverAngles[r][c], quiverSpeeds[r][c]])));
  return {
    type: "custom",
    xAxisIndex: 0,
    yAxisIndex: 0,
    clip: false,
    silent: true,
    z: 3,
    data,
    encode: { x: 0, y: 1 },
    renderItem: (_: any, api: any) => {
      const [cx, cy] = api.coord([api.value(0), api.value(1)]);
      const a = (api.value(2) * Math.PI) / 180;
      const ux = Math.cos(a);
      const uy = -Math.sin(a);
      const len = Math.hypot(20 * ux, 14 * uy);
      const color = speedColor(api.value(3));
      const tip = [cx + (ux * len) / 2, cy + (uy * len) / 2];
      const tail = [cx - (ux * len) / 2, cy - (uy * len) / 2];
      const hl = 9.5;
      const hw = 3.4;
      const nx = -uy;
      const ny = ux;
      const base = [tip[0] - ux * hl, tip[1] - uy * hl];
      const notch = [tip[0] - ux * hl * 0.8, tip[1] - uy * hl * 0.8];
      return {
        type: "group",
        children: [
          { type: "line", shape: { x1: tail[0], y1: tail[1], x2: notch[0], y2: notch[1] }, style: { stroke: color, lineWidth: 1.5, opacity: 0.9 } },
          {
            type: "polygon",
            shape: { points: [tip, [base[0] + nx * hw, base[1] + ny * hw], notch, [base[0] - nx * hw, base[1] - ny * hw]] },
            style: { fill: color, opacity: 0.95 },
          },
        ],
      };
    },
  };
}

function scatter(axis: number, points: Pts, color: string) {
  return {
    type: "scatter",
    xAxisIndex: axis,
    yAxisIndex: axis,
    symbolSize: 8,
    silent: true,
    z: 3,
    data: points,
    itemStyle: { color, borderColor: "#1c1c1c", borderWidth: 1.2, opacity: 1 },
  };
}

export default function App() {
  const ref = useRef<HTMLDivElement>(null);
  useEffect(() => {
    document.body.style.margin = "0";
    const chart = echarts.init(ref.current!, undefined, { renderer: "svg" });
    const graphic: any[] = [];
    grids.forEach((g, i) => {
      graphic.push({
        type: "rect",
        z: 100,
        silent: true,
        shape: { x: g.left, y: g.top, width: g.width, height: g.height },
        style: { fill: "none", stroke: "#000", lineWidth: i >= 3 ? 2.3 : 1.3 },
      });
      const bx = [44, 235, 425, 614.5, 806][i];
      const by = i === 3 ? 44.5 : 42;
      graphic.push({
        type: "rect",
        z: 101,
        silent: true,
        shape: { x: bx, y: by, width: 22, height: 22 },
        style: { fill: "#fff", stroke: "#555", lineWidth: 1.2 },
      });
      graphic.push({
        type: "text",
        z: 102,
        silent: true,
        x: bx + 11,
        y: by + 10,
        style: { text: panelLetters[i], font: '20px "Open Sans", sans-serif', fill: "#111", textAlign: "center", textVerticalAlign: "middle" },
      });
    });
    chart.setOption({
      animation: false,
      backgroundColor: "#fff",
      title: grids.map((g, i) => ({
        text: titles[i],
        left: g.left + g.width / 2,
        top: 9,
        padding: 0,
        textAlign: "center",
        textStyle: { fontFamily: FONT, fontSize: 18.8, fontWeight: "normal", color: "#222" },
      })),
      grid: grids.map((g) => ({ left: g.left, top: g.top, width: g.width, height: g.height, outerBoundsMode: "none" })),
      xAxis: grids.map((g, i) => ({
        gridIndex: i,
        type: "value",
        min: g.xMin,
        max: g.xMax,
        name: "x",
        nameLocation: "middle",
        nameMoveOverlap: false,
        nameGap: 6,
        nameTextStyle: { fontFamily: FONT, fontSize: 21.5, color: "#222" },
        splitLine: { show: false },
        axisLine: { show: false },
        axisTick: { show: true, inside: true, length: 3, customValues: xTicks, lineStyle: { color: "#000", width: 1.2 } },
        axisLabel: { show: true, customValues: xTicks, margin: 7, fontFamily: FONT, fontSize: 18, color: "#222", hideOverlap: false },
      })),
      yAxis: grids.map((_, i) => ({
        gridIndex: i,
        type: "value",
        min: 0,
        max: 50,
        interval: 10,
        show: i === 0,
        name: i === 0 ? "z" : "",
        nameLocation: "middle",
        nameMoveOverlap: false,
        nameRotate: 0,
        nameGap: 7,
        nameTextStyle: { fontFamily: FONT, fontSize: 24, color: "#222" },
        splitLine: { show: false },
        axisLine: { show: false },
        axisTick: { show: true, inside: true, length: 3, customValues: zTicks, lineStyle: { color: "#000", width: 1.2 } },
        axisLabel: { show: true, margin: 5, fontFamily: FONT, fontSize: 18, color: "#222" },
      })),
      graphic: { elements: graphic },
      series: [
        quiverSeries(),
        contourSeries(densityBands, 1),
        contourSeries(tempBands, 2),
        scatter(3, dGreen, COLORS.green),
        scatter(3, dCyan, COLORS.cyan),
        scatter(3, dPurple, COLORS.purple),
        scatter(3, dBlue, COLORS.blue),
        scatter(3, dOrange, COLORS.orange),
        scatter(3, dYellow, COLORS.yellow),
        scatter(3, dRed, COLORS.red),
        scatter(4, eGreen, COLORS.green),
        scatter(4, eCyan, COLORS.cyan),
        scatter(4, ePurple, COLORS.purple),
        scatter(4, eBlue, COLORS.blue),
        scatter(4, eOrange, COLORS.orange),
        scatter(4, eYellow, COLORS.yellow),
        scatter(4, eRed, COLORS.red),
      ],
    });
    return () => chart.dispose();
  }, []);
  return <div ref={ref} style={{ width: 942, height: 402 }} />;
}
